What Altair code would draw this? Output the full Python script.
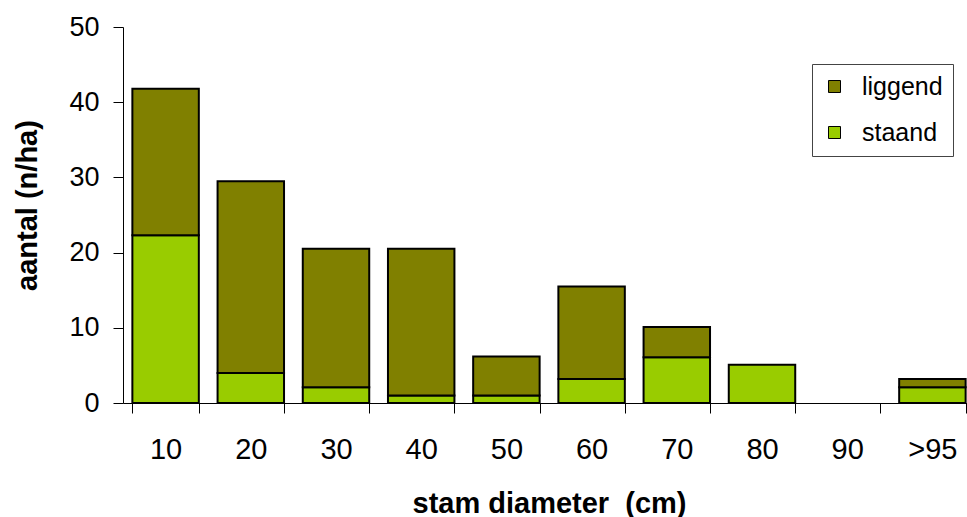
import altair as alt
import pandas as pd

# Diameter classes and stem counts per hectare
categories = ["10", "20", "30", "40", "50", "60", "70", "80", "90", ">95"]
staand = [22.3, 4.0, 2.1, 1.0, 1.0, 3.2, 6.1, 5.1, 0.0, 2.1]
liggend = [19.5, 25.5, 18.4, 19.5, 5.2, 12.3, 4.0, 0.0, 0.0, 1.1]

series = ["liggend", "staand"]
colors = ["#808000", "#99CC00"]
stack_pos = {"staand": 0, "liggend": 1}

rows = []
for cat, s_val, l_val in zip(categories, staand, liggend):
    for name, val in (("staand", s_val), ("liggend", l_val)):
        if val > 0:
            rows.append({"diameter": cat, "type": name, "aantal": val,
                         "stack": stack_pos[name]})
df = pd.DataFrame(rows)

FONT = "Liberation Sans"

chart = alt.Chart(df).mark_bar(stroke="black", strokeWidth=2).encode(
    x=alt.X(
        "diameter:N",
        sort=categories,
        scale=alt.Scale(domain=categories, range=[0, 852],
                        paddingInner=0.22, paddingOuter=0.11),
        axis=alt.Axis(
            title="stam diameter \u00a0(cm)",
            labelAngle=0,
            tickBand="extent",
            tickSize=10,
            tickColor="black",
            domainColor="black",
            labelFont=FONT,
            labelFontSize=29,
            labelColor="black",
            labelPadding=22,
            titleFont=FONT,
            titleFontSize=29,
            titleFontWeight="bold",
            titleColor="black",
            titleBaseline="alphabetic",
            titleY=109,
        ),
    ),
    y=alt.Y(
        "aantal:Q",
        stack="zero",
        scale=alt.Scale(domain=[0, 50], nice=False),
        axis=alt.Axis(
            title="aantal (n/ha)",
            values=[0, 10, 20, 30, 40, 50],
            grid=False,
            tickSize=10,
            tickColor="black",
            domainColor="black",
            labelFont=FONT,
            labelFontSize=27,
            labelColor="black",
            labelPadding=14,
            titleFont=FONT,
            titleFontSize=29,
            titleFontWeight="bold",
            titleColor="black",
            titleAngle=-90,
            titleAlign="center",
            titleBaseline="alphabetic",
            titleX=-87,
            titleY=178,
        ),
    ),
    color=alt.Color(
        "type:N",
        scale=alt.Scale(domain=series, range=colors),
        legend=alt.Legend(
            title=None,
            orient="none",
            legendX=689,
            legendY=37,
            fillColor="white",
            strokeColor="#444444",
            padding=10,
            symbolType="square",
            symbolSize=144,
            symbolStrokeColor="black",
            symbolStrokeWidth=1,
            symbolOpacity=1,
            labelFont=FONT,
            labelFontSize=25,
            labelColor="black",
            labelOffset=15,
            rowPadding=20,
        ),
    ),
    order=alt.Order("stack:Q"),
).properties(
    width=844,
    height=376,
    padding={"left": 123, "top": 27, "right": 0, "bottom": 114},
    autosize=alt.AutoSizeParams(type="none"),
    background="white",
).configure_view(stroke=None)

chart.save("out.html", embed_options={"renderer": "svg", "actions": False})
